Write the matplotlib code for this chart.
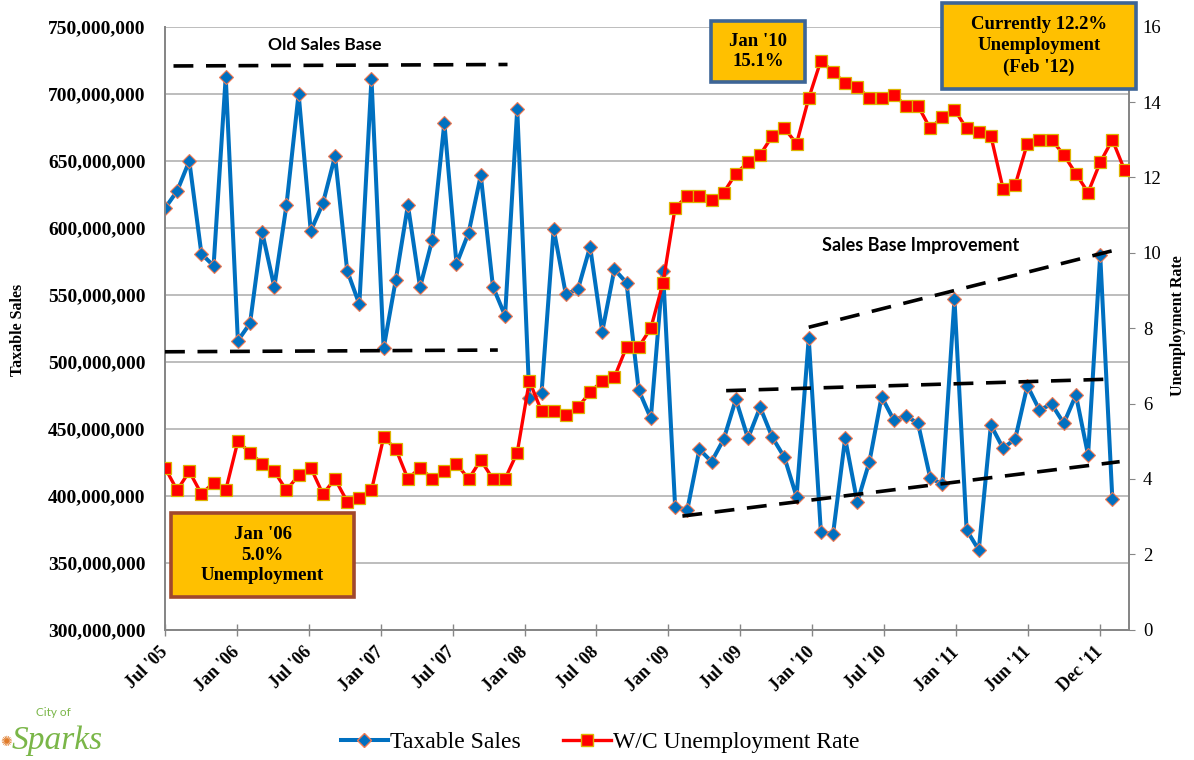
import matplotlib.pyplot as plt
from matplotlib.patches import Rectangle
from matplotlib.lines import Line2D
from matplotlib.ticker import FuncFormatter

# monthly data, Jul '05 .. Feb '12 (sales end one month earlier)
sales = [614.5, 627.4, 649.8, 580.4, 571.6, 712.7, 515.7, 528.6, 596.8, 555.7,
         616.7, 700.0, 597.5, 618.2, 653.5, 567.9, 542.8, 711.2, 510.0, 560.9,
         616.9, 555.5, 590.8, 678.4, 572.9, 596.3, 639.1, 556.0, 534.3, 688.6,
         473.0, 476.6, 599.0, 550.5, 554.0, 585.8, 522.4, 568.9, 558.9, 478.9,
         457.7, 567.9, 391.8, 389.3, 434.6, 425.4, 442.1, 471.9, 442.8, 466.0,
         443.6, 428.6, 399.2, 517.5, 373.1, 371.2, 442.8, 395.1, 425.4, 473.9,
         456.5, 459.5, 454.0, 413.4, 408.5, 546.6, 374.4, 359.5, 452.7, 435.4,
         442.3, 482.1, 463.9, 468.4, 454.0, 475.1, 430.4, 579.6, 397.3]
sales = [v * 1e6 for v in sales]

unemployment = [4.3, 3.7, 4.2, 3.6, 3.9, 3.7, 5.0, 4.7, 4.4, 4.2,
                3.7, 4.1, 4.3, 3.6, 4.0, 3.4, 3.5, 3.7, 5.1, 4.8,
                4.0, 4.3, 4.0, 4.2, 4.4, 4.0, 4.5, 4.0, 4.0, 4.7,
                6.6, 5.8, 5.8, 5.7, 5.9, 6.3, 6.6, 6.7, 7.5, 7.5,
                8.0, 9.2, 11.2, 11.5, 11.5, 11.4, 11.6, 12.1, 12.4, 12.6,
                13.1, 13.3, 12.9, 14.1, 15.1, 14.8, 14.5, 14.4, 14.1, 14.1,
                14.2, 13.9, 13.9, 13.3, 13.6, 13.8, 13.3, 13.2, 13.1, 11.7,
                11.8, 12.9, 13.0, 13.0, 12.6, 12.1, 11.6, 12.4, 13.0, 12.2]

tick_labels = ["Jul '05", "Jan '06", "Jul '06", "Jan '07", "Jul '07", "Jan '08", "Jul '08",
               "Jan '09", "Jul '09", "Jan '10", "Jul '10", "Jan '11", "Jun '11", "Dec '11"]

# hand-drawn trend lines (month index, taxable sales)
old_top = ([0.7, 28.2], [720.7e6, 721.8e6])
old_bottom = ([0.0, 27.4], [507.4e6, 508.7e6])
new_top = ([53.0, 78.0], [525.7e6, 582.8e6])
new_mid = ([46.2, 77.5], [478.4e6, 486.9e6])
new_bottom = ([42.6, 78.6], [384.8e6, 425.4e6])

W, H = 1194, 760
SERIF = ['Liberation Serif', 'DejaVu Serif']
SANS = ['Lato', 'DejaVu Sans']


def fx(x):
    return x / W


def fy(y):
    return 1 - y / H


fig = plt.figure(figsize=(W / 100, H / 100), dpi=100)
ax = fig.add_axes([fx(165), fy(629.7), (1129 - 165) / W, (629.7 - 26.7) / H])
ax2 = ax.twinx()

x_sales = list(range(len(sales)))
x_unemp = list(range(len(unemployment)))

ax.plot(x_sales, sales, color='#0070C0', lw=2.9, marker='D', ms=7.5,
        mfc='#0070C0', mec='#F07850', mew=0.8, zorder=3)
ax2.plot(x_unemp, unemployment, color='#FF0000', lw=2.4, marker='s', ms=8.2,
         mfc='#FF0000', mec='#DDB400', mew=0.9, zorder=3)

for xs, ys in [old_top, old_bottom, new_top, new_mid, new_bottom]:
    ax2.plot(xs, ys, transform=ax.transData, color='black', lw=2.6,
             dashes=(5.5, 3.5), zorder=5)

ax.set_xlim(0, 79.37)
ax.set_ylim(300e6, 750e6)
ax2.set_ylim(0, 16)
ax.set_yticks([300e6 + 50e6 * i for i in range(10)])
ax2.set_yticks(range(0, 17, 2))
ax.yaxis.set_major_formatter(FuncFormatter(lambda v, p: f"{int(v):,}"))
ax.set_xticks([i * 5.92 for i in range(len(tick_labels))])
ax.set_xticklabels(tick_labels, rotation=45, ha='right', va='center',
                   rotation_mode='anchor', family=SERIF, weight='bold', fontsize=13)

ax.grid(axis='y', color='#ABABAB', lw=1.1)
ax.set_axisbelow(True)
for a in (ax, ax2):
    for s in a.spines.values():
        s.set_color('#868686')
        s.set_linewidth(1.3)
    a.spines['top'].set_visible(False)
ax.tick_params(axis='y', length=0, pad=14)
ax.tick_params(axis='x', direction='inout', length=9, color='#868686', width=1, pad=10)
ax2.tick_params(axis='y', length=4, color='#868686', pad=6)
for lab in ax.get_yticklabels():
    lab.set_family(SERIF)
    lab.set_weight('bold')
    lab.set_fontsize(14)
for lab in ax2.get_yticklabels():
    lab.set_family(SERIF)
    lab.set_fontsize(13.5)

fig.text(fx(18), fy(330), 'Taxable Sales', rotation=90, ha='center', va='center',
         family=SERIF, weight='bold', fontsize=11.5)
fig.text(fx(1178), fy(326), 'Unemployment Rate', rotation=90, ha='center', va='center',
         family=SERIF, weight='bold', fontsize=11.5)

fig.text(fx(325), fy(45), 'Old Sales Base', ha='center', va='center',
         family=SANS, weight='bold', fontsize=12.5)
fig.text(fx(921), fy(245), 'Sales Base Improvement', ha='center', va='center',
         family=SANS, weight='bold', fontsize=13)

# callout boxes
boxes = [
    ((171, 513, 354, 597), '#A0482D', "Jan '06\n5.0%\nUnemployment"),
    ((711, 21, 805, 82), '#3D6596', "Jan '10\n15.1%"),
    ((942, 3, 1136, 89), '#3D6596', "Currently 12.2%\nUnemployment\n(Feb '12)"),
]
for (x0, y0, x1, y1), ec, txt in boxes:
    fig.add_artist(Rectangle((fx(x0), fy(y1)), (x1 - x0) / W, (y1 - y0) / H,
                             transform=fig.transFigure, fc='#FFC000', ec=ec, lw=2.6, zorder=6))
    fig.text(fx((x0 + x1) / 2), fy((y0 + y1) / 2), txt, ha='center', va='center',
             family=SERIF, weight='bold', fontsize=13.5, linespacing=1.3, zorder=7)

handles = [Line2D([], [], color='#0070C0', lw=2.9, marker='D', ms=7.5, mfc='#0070C0', mec='#F07850'),
           Line2D([], [], color='#FF0000', lw=2.4, marker='s', ms=8.2, mfc='#FF0000', mec='#DDB400')]
fig.legend(handles, ['Taxable Sales', 'W/C Unemployment Rate'], loc='center',
           bbox_to_anchor=(fx(600), fy(742)), ncol=2, frameon=False, numpoints=1,
           handlelength=2.0, handletextpad=0.1, columnspacing=1.8,
           prop={'family': SERIF, 'size': 17})

# City of Sparks logo
fig.text(fx(36), fy(713), 'City of', family=SANS, fontsize=8.5, color='#7AB648', va='center')
fig.text(fx(12), fy(741), 'Sparks', family=SERIF, style='italic', fontsize=24,
         color='#7AB648', va='center')
fig.text(fx(0), fy(742), '\u273a', family='DejaVu Sans', fontsize=10, color='#E07B2A', va='center')

fig.savefig('out.png', dpi=100)
